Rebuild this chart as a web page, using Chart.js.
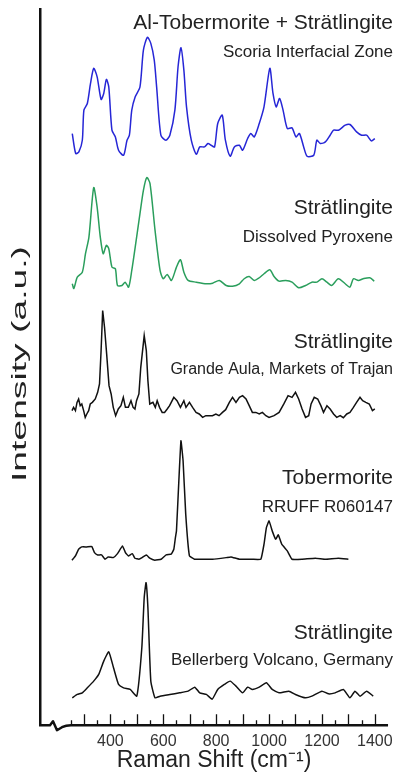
<!DOCTYPE html>
<html>
<head>
<meta charset="utf-8">
<script src="https://cdn.jsdelivr.net/npm/chart.js@4"></script>
<style>
  html, body { margin: 0; padding: 0; background: #fff; }
  canvas { display: block; }
</style>
</head>
<body>
<canvas id="chart" width="400" height="774"></canvas>
<script>
"use strict";

// Raman shift (cm-1) and intensity above each trace's own baseline
const alTobShift = [256, 269, 281, 294, 300, 313, 325, 337, 350, 365, 375, 385, 394, 406, 419, 431, 450, 463, 472, 481, 494, 512, 525, 540, 553, 566, 575, 591, 610, 625, 644, 656, 667, 678, 688, 706, 725, 738, 756, 769, 781, 794, 806, 823, 835, 853, 869, 888, 900, 919, 931, 944, 963, 981, 1003, 1015, 1027, 1040, 1053, 1069, 1087, 1102, 1115, 1131, 1144, 1169, 1181, 1194, 1213, 1231, 1244, 1263, 1288, 1306, 1331, 1350, 1369, 1387, 1400];
const alTobInt = [22.7, 2.7, 4.3, 16, 46, 52.7, 72.7, 87.7, 79.3, 56.7, 62.7, 76.7, 69.3, 26, 19.3, 6, 1, 16, 21, 46, 59.3, 69.3, 106, 118.7, 112.7, 96, 69.3, 21, 16, 21, 46, 89.3, 108.3, 86, 49.3, 16, 2, 9.3, 9.3, 12.7, 11, 9.3, 32.7, 41, 16, 0, 9.3, 11, 6, 17.7, 22.7, 19.3, 32.7, 49.3, 87.7, 62.7, 49.3, 57.7, 46, 27.7, 28.3, 19.3, 22.7, 9.3, 0, 1, 16, 12.7, 14.3, 21, 26, 26, 31, 31.7, 24.3, 21, 21, 15.3, 17.7];

const pyroxShift = [256, 262, 275, 294, 306, 319, 337, 350, 362, 373, 385, 394, 406, 419, 427, 444, 456, 469, 481, 494, 512, 525, 538, 550, 569, 588, 600, 615, 631, 650, 665, 678, 694, 725, 763, 787, 812, 838, 862, 888, 906, 925, 944, 963, 981, 1003, 1019, 1038, 1063, 1087, 1112, 1138, 1162, 1181, 1200, 1219, 1237, 1262, 1288, 1306, 1319, 1338, 1356, 1381, 1398];
const pyroxInt = [4.7, 0, 11.3, 16.3, 34.7, 51.3, 100.7, 81.3, 51.3, 34.7, 43, 39.7, 21.3, 19.7, 3, 3, 6.3, 1.3, 18, 41.3, 74.7, 98, 110.7, 104.7, 58, 18, 9.7, 14, 8, 21.3, 28.7, 16.3, 8, 6.3, 4.7, 5.3, 8, 3, 2.3, 4.7, 9.7, 12, 8, 10.7, 14.7, 18.7, 12, 7.3, 8, 6.3, 0.7, 3, 6.3, 6.3, 9.7, 6.3, 3, 9.7, 4.7, 1.3, 9.7, 8, 9.7, 10.7, 7.3];

const trajanShift = [255, 261, 268, 274, 280, 286, 292, 299, 305, 311, 318, 324, 332, 343, 352, 359, 365, 371, 378, 386, 395, 403, 411, 420, 430, 440, 449, 457, 468, 478, 486, 493, 499, 508, 515, 528, 536, 542, 549, 561, 570, 577, 586, 596, 605, 615, 624, 640, 652, 665, 678, 686, 699, 711, 724, 736, 749, 761, 774, 786, 799, 811, 824, 836, 850, 862, 875, 888, 900, 913, 925, 937, 950, 963, 975, 988, 1000, 1019, 1038, 1056, 1072, 1087, 1100, 1112, 1125, 1138, 1150, 1159, 1171, 1184, 1196, 1206, 1219, 1231, 1244, 1256, 1269, 1281, 1294, 1306, 1319, 1331, 1344, 1354, 1366, 1379, 1391, 1400];
const trajanInt = [7, 10.3, 7, 15.3, 18.7, 12, 13.7, 7, 0.3, 3.7, 7, 13.7, 15.3, 18.7, 25.3, 33.7, 67, 107, 90.3, 63.7, 32, 23.7, 10.3, 2, 8.7, 12, 20.3, 10.3, 10.3, 17, 10.3, 8.7, 17, 23.7, 50.3, 82, 67, 37, 13.7, 15.3, 10.3, 17, 10.3, 5.3, 5.3, 8.7, 12, 20.3, 17, 10.3, 17, 10.3, 15.3, 10.3, 5.3, 3.7, 0.3, 2, 2, 2, 3.7, 2, 5.3, 8, 15.3, 20.3, 15.3, 20.3, 22, 18.7, 12, 5.3, 5.3, 3.7, 5.3, 2, 0.3, 2, 5.3, 13.7, 22, 20.3, 25.3, 18.7, 8.7, 0.3, 2, 13.7, 20.3, 18.7, 12, 5.3, 12, 8.7, 3.7, 0.3, 2, 0, 3.7, 5.3, 10.3, 15.3, 20.3, 17, 15.3, 13.7, 7, 8.7];

const rruffShift = [255, 268, 280, 292, 311, 330, 340, 352, 367, 380, 392, 411, 427, 446, 457, 468, 483, 493, 508, 520, 536, 549, 568, 592, 611, 630, 640, 646, 650, 659, 667, 675, 685, 699, 718, 738, 787, 838, 856, 888, 937, 969, 981, 990, 1000, 1012, 1025, 1035, 1048, 1069, 1087, 1125, 1175, 1213, 1262, 1300];
const rruffInt = [0.7, 5, 11.7, 14, 14, 14.3, 8.3, 6, 6, 1.7, 4, 3.3, 7.3, 15, 8.3, 5, 7.3, 2.7, 1.7, 3.3, 6, 2.7, 0.7, 1.7, 6, 6.7, 11.7, 23.3, 30, 80, 120, 100, 46.7, 5, 1.7, 1.7, 1.7, 3.3, 4, 1.7, 1.7, 1.7, 16.7, 33.3, 40, 30, 21.7, 26, 16.7, 10, 1.7, 1.7, 2.7, 1.7, 2.7, 1.7];

const bellerShift = [256, 275, 294, 313, 337, 356, 375, 394, 412, 431, 450, 475, 500, 519, 528, 535, 542, 553, 569, 588, 625, 662, 694, 719, 738, 763, 785, 806, 831, 853, 875, 900, 919, 937, 963, 990, 1012, 1038, 1075, 1100, 1138, 1162, 1200, 1225, 1250, 1281, 1306, 1325, 1344, 1369, 1394];
const bellerInt = [1.3, 4.7, 6.3, 11.3, 18, 24.7, 38, 47.3, 31.3, 14.7, 11.3, 9.7, 3, 51.3, 101.3, 116.3, 91.3, 18, 1.3, 3, 4.7, 6.3, 8, 12, 6.3, 4.7, 0, 9.7, 14.7, 18, 13, 6.3, 12, 9.7, 12, 16.3, 9.7, 6.3, 8, 4.7, 1.3, 3, 8, 5.3, 6.3, 9.7, 1.3, 8, 3, 8, 3];

const titles = ["Al-Tobermorite + Strätlingite", "Strätlingite", "Strätlingite", "Tobermorite", "Strätlingite"];
const subtitles = ["Scoria Interfacial Zone", "Dissolved Pyroxene", "Grande Aula, Markets of Trajan", "RRUFF R060147", "Bellerberg Volcano, Germany"];
const tickLabels = [400, 600, 800, 1000, 1200, 1400];
const yTitle = "Intensity (a.u.)";

// layout: vertical stacking offset of each trace, and label positions (px)
const offsets = [568, 436, 307, 164, 26];
const titleY = [23, 208, 342, 478, 633];
const subtitleY = [52, 237, 370, 507, 660];
const subtitleSize = [17, 17, 16, 17, 17];
const colors = ["#2626d6", "#2a9e5c", "#111111", "#111111", "#111111"];

const FONT = "'Liberation Sans', Arial, sans-serif";

function serie(shift, inten, k, tension) {
	return {
		data: shift.map((w, i) => ({ x: w, y: inten[i] + offsets[k] })),
		borderColor: colors[k],
		borderWidth: 1.5,
		pointRadius: 0,
		tension: tension,
		fill: false
	};
}

const decor = {
	id: "decor",
	afterDraw(chart) {
		const ctx = chart.ctx;
		const a = chart.chartArea;
		const x = chart.scales.x;
		ctx.save();
		// x axis with break
		ctx.strokeStyle = "#111";
		ctx.lineWidth = 2.5;
		ctx.lineJoin = "round";
		ctx.beginPath();
		ctx.moveTo(a.left - 1, a.bottom);
		ctx.lineTo(a.left + 10, a.bottom);
		ctx.lineTo(a.left + 13, a.bottom - 4);
		ctx.lineTo(a.left + 17, a.bottom + 5);
		ctx.lineTo(a.left + 22, a.bottom + 2);
		ctx.quadraticCurveTo(a.left + 26, a.bottom, a.left + 31, a.bottom);
		ctx.lineTo(a.right, a.bottom);
		ctx.stroke();
		// tick marks
		ctx.lineWidth = 1.3;
		ctx.beginPath();
		for (let v = 250; v <= 1400; v += 50) {
			const px = Math.round(x.getPixelForValue(v)) + 0.5;
			const len = v % 100 === 0 ? 11 : 5;
			ctx.moveTo(px, a.bottom);
			ctx.lineTo(px, a.bottom - len);
		}
		ctx.stroke();
		// trace labels
		ctx.fillStyle = "#222";
		ctx.textAlign = "right";
		ctx.textBaseline = "middle";
		for (let i = 0; i < titles.length; i++) {
			ctx.font = "21px " + FONT;
			ctx.fillText(titles[i], 393, titleY[i]);
			ctx.font = subtitleSize[i] + "px " + FONT;
			ctx.fillText(subtitles[i], 393, subtitleY[i]);
		}
		// y axis title, elongated like the original
		ctx.font = "21px " + FONT;
		ctx.textAlign = "center";
		const stretch = 236 / ctx.measureText(yTitle).width;
		ctx.translate(20, 364);
		ctx.rotate(-Math.PI / 2);
		ctx.scale(stretch, 1);
		ctx.fillText(yTitle, 0, 0);
		ctx.restore();
	}
};

new Chart(document.getElementById("chart"), {
	type: "line",
	data: {
		datasets: [
			serie(alTobShift, alTobInt, 0, 0.25),
			serie(pyroxShift, pyroxInt, 1, 0.25),
			serie(trajanShift, trajanInt, 2, 0),
			serie(rruffShift, rruffInt, 3, 0.1),
			serie(bellerShift, bellerInt, 4, 0.15)
		]
	},
	options: {
		responsive: false,
		animation: false,
		layout: { padding: { top: 9, right: 10, bottom: 0, left: 32 } },
		plugins: { legend: { display: false }, tooltip: { enabled: false } },
		scales: {
			x: {
				type: "linear",
				min: 134,
				max: 1450,
				grid: { display: true, drawOnChartArea: false, drawTicks: false },
				border: { display: false },
				afterBuildTicks(scale) {
					scale.ticks = tickLabels.map(v => ({ value: v }));
				},
				ticks: {
					color: "#333",
					font: { size: 16, family: FONT },
					padding: 7,
					maxRotation: 0,
					autoSkip: false,
					callback: v => String(v)
				},
				title: {
					display: true,
					text: "Raman Shift (cm\u207B\u00B9)",
					color: "#222",
					font: { size: 23, family: FONT },
					padding: { top: -12, bottom: 0 }
				}
			},
			y: {
				min: 0,
				max: 715,
				grid: { display: false },
				border: { display: true, color: "#111", width: 2.5 },
				ticks: { display: false },
				title: { display: false }
			}
		}
	},
	plugins: [decor]
});
</script>
</body>
</html>
